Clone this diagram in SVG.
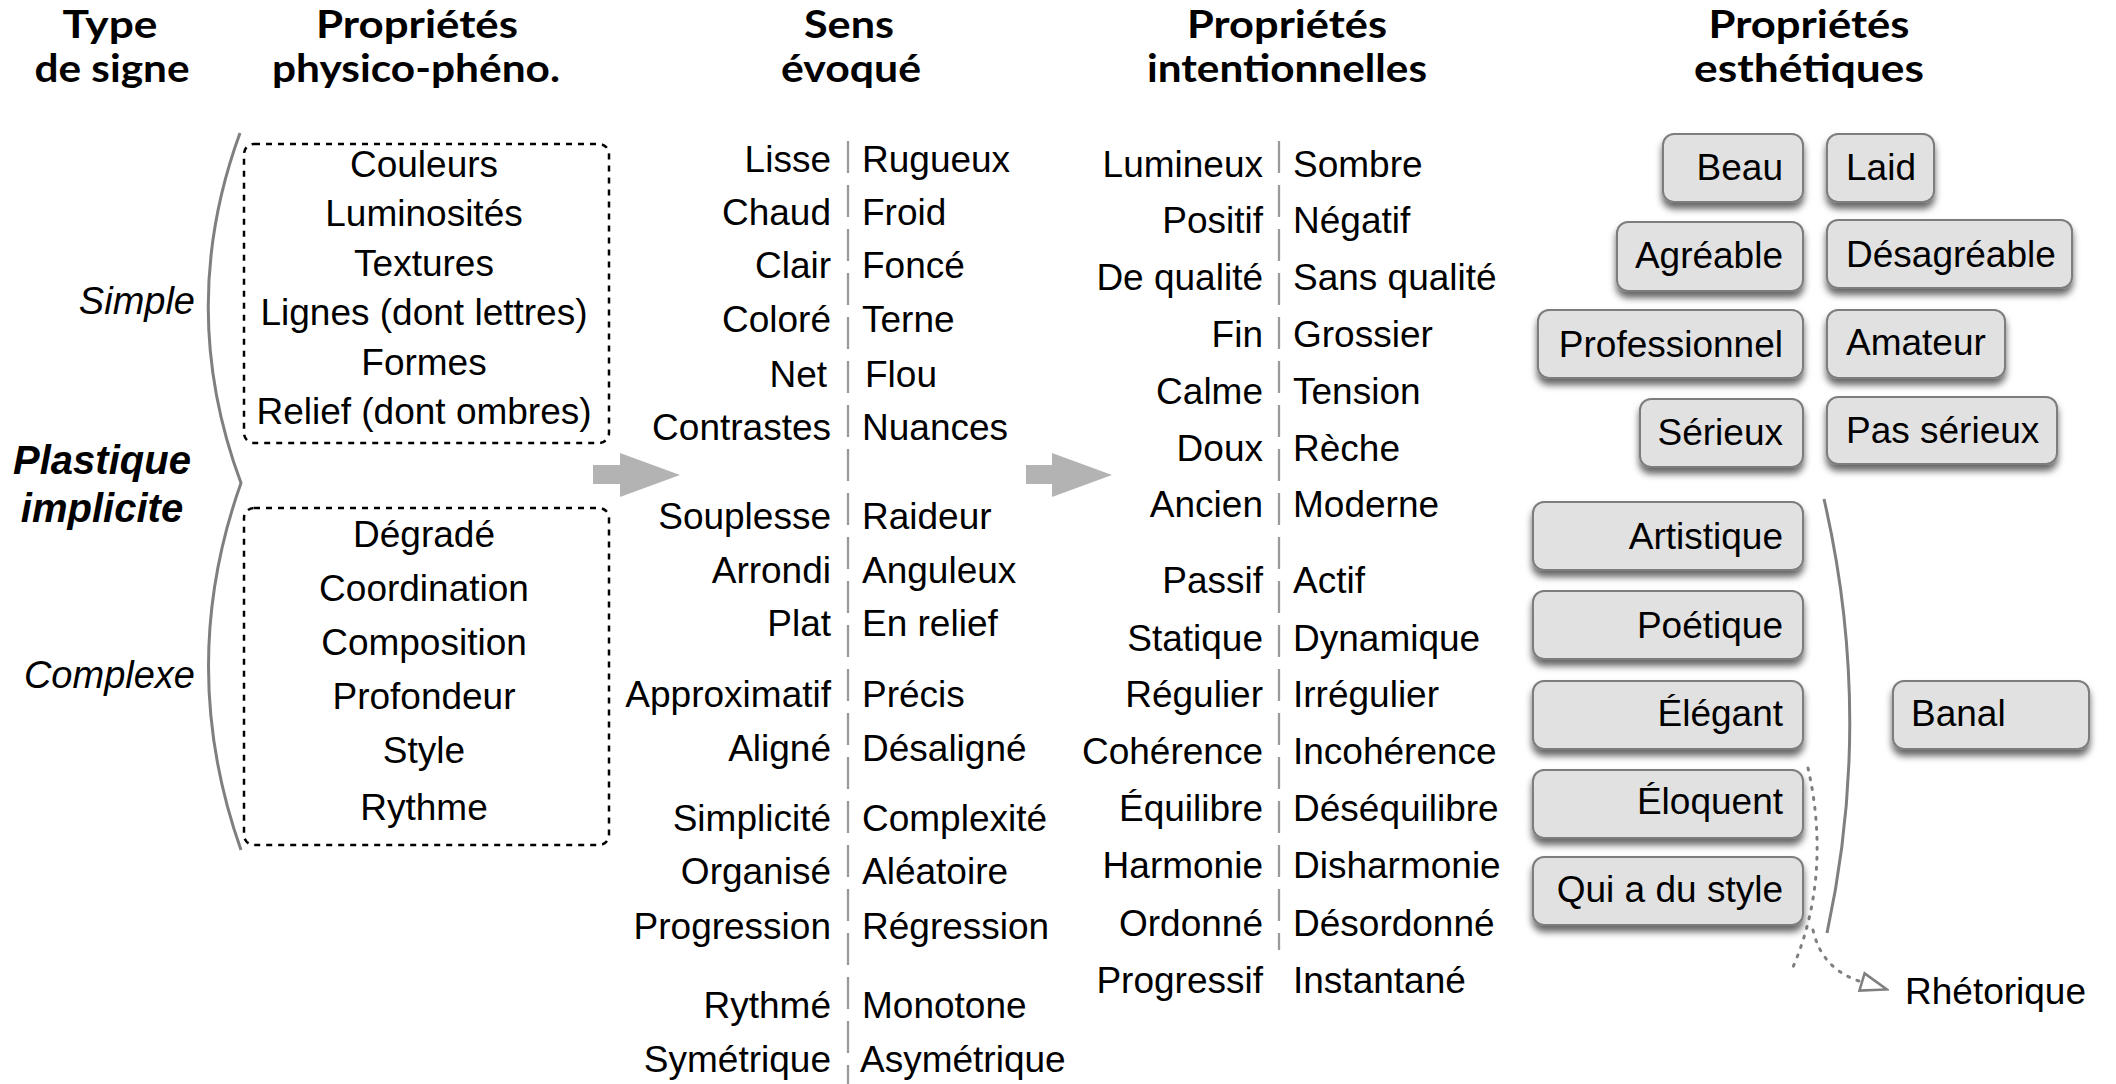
<svg xmlns="http://www.w3.org/2000/svg" width="2116" height="1084" viewBox="0 0 2116 1084">
<defs>
<style>
.hdr{font-family:Lato,"Open Sans","DejaVu Sans",sans-serif;font-weight:700;font-size:39px;text-anchor:middle;fill:#000}
.t{font-family:"Liberation Sans",Arial,sans-serif;font-size:37px;fill:#000}
.r{text-anchor:end}
.c{text-anchor:middle}
.it{font-style:italic;font-size:38px}
.bi{font-style:italic;font-weight:700;font-size:40px}
.box{fill:#e1e1e1;stroke:#7d7d7d;stroke-width:2;filter:url(#sh)}
.dotbox{fill:none;stroke:#000;stroke-width:2.5;stroke-dasharray:6 6}
.brace{fill:none;stroke:#7f7f7f;stroke-width:3}
.div{stroke:#9a9a9a;stroke-width:2.3;stroke-dasharray:32 12;fill:none}
.garrow{fill:#b3b3b3}
.dotted{fill:none;stroke:#7f7f7f;stroke-width:3;stroke-dasharray:2 8;stroke-linecap:round}
</style>
<filter id="sh" x="-10%" y="-20%" width="120%" height="160%">
<feDropShadow dx="0" dy="6" stdDeviation="3.5" flood-color="#000" flood-opacity="0.6"/>
</filter>
<marker id="openTri" viewBox="0 0 30 22" refX="2" refY="11" markerWidth="30" markerHeight="22" markerUnits="userSpaceOnUse" orient="auto">
<path d="M2,2 L28,11 L2,20 Z" fill="#fff" stroke="#7f7f7f" stroke-width="2.5"/>
</marker>
</defs>
<rect width="2116" height="1084" fill="#fff"/>

<g id="headers">
<g id="hdr-type"><text class="hdr" x="110" y="38" textLength="95" lengthAdjust="spacingAndGlyphs">Type</text><text class="hdr" x="112" y="82" textLength="155" lengthAdjust="spacingAndGlyphs">de signe</text></g>
<g id="hdr-physico"><text class="hdr" x="417" y="38" textLength="202" lengthAdjust="spacingAndGlyphs">Propriétés</text><text class="hdr" x="416" y="82" textLength="288" lengthAdjust="spacingAndGlyphs">physico-phéno.</text></g>
<g id="hdr-sens"><text class="hdr" x="849" y="38" textLength="90" lengthAdjust="spacingAndGlyphs">Sens</text><text class="hdr" x="851" y="82" textLength="140" lengthAdjust="spacingAndGlyphs">évoqué</text></g>
<g id="hdr-intent"><text class="hdr" x="1287" y="38" textLength="200" lengthAdjust="spacingAndGlyphs">Propriétés</text><text class="hdr" x="1287" y="82" textLength="280" lengthAdjust="spacingAndGlyphs">intentionnelles</text></g>
<g id="hdr-esth"><text class="hdr" x="1809" y="38" textLength="201" lengthAdjust="spacingAndGlyphs">Propriétés</text><text class="hdr" x="1809" y="82" textLength="230" lengthAdjust="spacingAndGlyphs">esthétiques</text></g>
</g>

<g id="connectors">
<path class="brace" d="M240,133 Q176,308 241,483 Q176,666 241,850"/>
<path class="brace" d="M1824,499 Q1874,716 1827,933"/>
<polygon class="garrow" points="593,465 620,465 620,453 680,475 620,497 620,484 593,484"/>
<polygon class="garrow" points="1026,465 1052,465 1052,453 1112,475 1052,497 1052,484 1026,484"/>
<line class="div" x1="848" y1="141" x2="848" y2="1084"/>
<line class="div" x1="1279" y1="141" x2="1279" y2="950"/>
<path class="dotted" d="M1808,768 C1822,830 1822,900 1793,967"/>
<path class="dotted" d="M1813,930 Q1822,970 1862,982" marker-end="url(#openTri)"/>
</g>

<g id="type-labels">
<text class="t it r" x="195" y="314">Simple</text>
<text class="t bi c" x="102" y="474">Plastique</text>
<text class="t bi c" x="102" y="522">implicite</text>
<text class="t it r" x="195" y="688">Complexe</text>
</g>

<g id="node-simple">
<rect class="dotbox" x="244" y="144" width="365" height="299" rx="10"/>
<text class="t c" x="424" y="177">Couleurs</text>
<text class="t c" x="424" y="226">Luminosités</text>
<text class="t c" x="424" y="276">Textures</text>
<text class="t c" x="424" y="325">Lignes (dont lettres)</text>
<text class="t c" x="424" y="375">Formes</text>
<text class="t c" x="424" y="424">Relief (dont ombres)</text>
</g>

<g id="node-complexe">
<rect class="dotbox" x="244" y="508" width="365" height="337" rx="10"/>
<text class="t c" x="424" y="547">Dégradé</text>
<text class="t c" x="424" y="601">Coordination</text>
<text class="t c" x="424" y="655">Composition</text>
<text class="t c" x="424" y="709">Profondeur</text>
<text class="t c" x="424" y="763">Style</text>
<text class="t c" x="424" y="820">Rythme</text>
</g>

<g id="node-sens">
<text class="t r" x="831" y="172">Lisse</text><text class="t" x="862" y="172">Rugueux</text>
<text class="t r" x="831" y="225">Chaud</text><text class="t" x="862" y="225">Froid</text>
<text class="t r" x="831" y="278">Clair</text><text class="t" x="862" y="278">Foncé</text>
<text class="t r" x="831" y="332">Coloré</text><text class="t" x="862" y="332">Terne</text>
<text class="t r" x="827" y="387">Net</text><text class="t" x="865" y="387">Flou</text>
<text class="t r" x="831" y="440">Contrastes</text><text class="t" x="862" y="440">Nuances</text>
<text class="t r" x="831" y="529">Souplesse</text><text class="t" x="862" y="529">Raideur</text>
<text class="t r" x="831" y="583">Arrondi</text><text class="t" x="862" y="583">Anguleux</text>
<text class="t r" x="831" y="636">Plat</text><text class="t" x="862" y="636">En relief</text>
<text class="t r" x="831" y="707">Approximatif</text><text class="t" x="862" y="707">Précis</text>
<text class="t r" x="831" y="761">Aligné</text><text class="t" x="862" y="761">Désaligné</text>
<text class="t r" x="831" y="831">Simplicité</text><text class="t" x="862" y="831">Complexité</text>
<text class="t r" x="831" y="884">Organisé</text><text class="t" x="862" y="884">Aléatoire</text>
<text class="t r" x="831" y="939">Progression</text><text class="t" x="862" y="939">Régression</text>
<text class="t r" x="831" y="1018">Rythmé</text><text class="t" x="862" y="1018">Monotone</text>
<text class="t r" x="831" y="1072">Symétrique</text><text class="t" x="860" y="1072">Asymétrique</text>
</g>

<g id="node-intent">
<text class="t r" x="1263" y="177">Lumineux</text><text class="t" x="1293" y="177">Sombre</text>
<text class="t r" x="1263" y="233">Positif</text><text class="t" x="1293" y="233">Négatif</text>
<text class="t r" x="1263" y="290">De qualité</text><text class="t" x="1293" y="290">Sans qualité</text>
<text class="t r" x="1263" y="347">Fin</text><text class="t" x="1293" y="347">Grossier</text>
<text class="t r" x="1263" y="404">Calme</text><text class="t" x="1293" y="404">Tension</text>
<text class="t r" x="1263" y="461">Doux</text><text class="t" x="1293" y="461">Rèche</text>
<text class="t r" x="1263" y="517">Ancien</text><text class="t" x="1293" y="517">Moderne</text>
<text class="t r" x="1263" y="593">Passif</text><text class="t" x="1293" y="593">Actif</text>
<text class="t r" x="1263" y="651">Statique</text><text class="t" x="1293" y="651">Dynamique</text>
<text class="t r" x="1263" y="707">Régulier</text><text class="t" x="1293" y="707">Irrégulier</text>
<text class="t r" x="1263" y="764">Cohérence</text><text class="t" x="1293" y="764">Incohérence</text>
<text class="t r" x="1263" y="821">Équilibre</text><text class="t" x="1293" y="821">Déséquilibre</text>
<text class="t r" x="1263" y="878">Harmonie</text><text class="t" x="1293" y="878">Disharmonie</text>
<text class="t r" x="1263" y="936">Ordonné</text><text class="t" x="1293" y="936">Désordonné</text>
<text class="t r" x="1263" y="993">Progressif</text><text class="t" x="1293" y="993">Instantané</text>
</g>

<g id="node-beau"><rect class="box" x="1663" y="134" width="140" height="68" rx="11"/><text class="t r" x="1783" y="180">Beau</text></g>
<g id="node-laid"><rect class="box" x="1827" y="134" width="107" height="68" rx="11"/><text class="t" x="1846" y="180">Laid</text></g>
<g id="node-agreable"><rect class="box" x="1617" y="222" width="186" height="69" rx="11"/><text class="t r" x="1783" y="268">Agréable</text></g>
<g id="node-desagreable"><rect class="box" x="1827" y="220" width="245" height="68" rx="11"/><text class="t" x="1846" y="267">Désagréable</text></g>
<g id="node-professionnel"><rect class="box" x="1538" y="310" width="265" height="68" rx="11"/><text class="t r" x="1783" y="357">Professionnel</text></g>
<g id="node-amateur"><rect class="box" x="1827" y="310" width="178" height="68" rx="11"/><text class="t" x="1846" y="355">Amateur</text></g>
<g id="node-serieux"><rect class="box" x="1640" y="399" width="163" height="68" rx="11"/><text class="t r" x="1783" y="445">Sérieux</text></g>
<g id="node-passerieux"><rect class="box" x="1827" y="397" width="230" height="67" rx="11"/><text class="t" x="1846" y="443">Pas sérieux</text></g>
<g id="node-artistique"><rect class="box" x="1533" y="502" width="270" height="68" rx="11"/><text class="t r" x="1783" y="549">Artistique</text></g>
<g id="node-poetique"><rect class="box" x="1533" y="591" width="270" height="68" rx="11"/><text class="t r" x="1783" y="638">Poétique</text></g>
<g id="node-elegant"><rect class="box" x="1533" y="681" width="270" height="68" rx="11"/><text class="t r" x="1783" y="726">Élégant</text></g>
<g id="node-eloquent"><rect class="box" x="1533" y="770" width="270" height="68" rx="11"/><text class="t r" x="1783" y="814">Éloquent</text></g>
<g id="node-style"><rect class="box" x="1533" y="857" width="270" height="68" rx="11"/><text class="t r" x="1783" y="902">Qui a du style</text></g>
<g id="node-banal"><rect class="box" x="1893" y="681" width="196" height="68" rx="11"/><text class="t" x="1911" y="726">Banal</text></g>
<g id="node-rhetorique"><text class="t" x="1905" y="1004">Rhétorique</text></g>
</svg>
